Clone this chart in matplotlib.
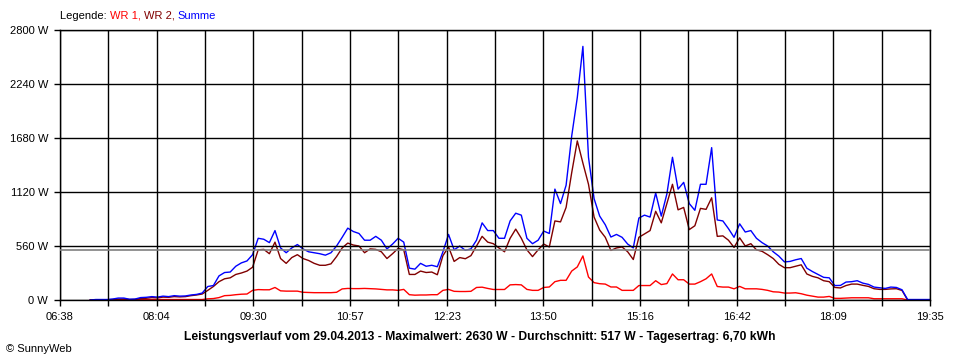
import matplotlib
matplotlib.use("Agg")
import matplotlib.pyplot as plt
import numpy as np
import pandas as pd

plt.rcParams["font.family"] = ["Liberation Sans", "DejaVu Sans"]

OUTPUT_PLOT = "out.png"

# readings every 5 minutes, starting 07:05
SAMPLE_START = "07:05"
SAMPLE_STEP = "5min"

SUMME_W = [
    0, 5, 5, 5, 10, 20, 20, 8, 10, 25, 28, 35, 30, 40, 35, 45, 40, 42, 52, 58,
    72, 140, 150, 250, 285, 290, 350, 385, 405, 470, 640, 630, 595, 720, 540, 490,
    540, 575, 530, 500, 490, 480, 465, 490, 560, 650, 745, 710, 690, 620, 620, 660,
    620, 530, 580, 640, 600, 330, 320, 380, 350, 360, 345, 500, 680, 520, 560, 515,
    530, 620, 800, 720, 720, 640, 640, 820, 900, 880, 640, 584, 620, 715, 690, 1150,
    1000, 1190, 1700, 2100, 2630, 1480, 1050, 870, 780, 653, 680, 650, 580, 540, 850, 880,
    860, 1110, 870, 1100, 1480, 1150, 1220, 1000, 930, 1200, 1200, 1580, 830, 820, 740, 650,
    790, 705, 720, 640, 595, 560, 500, 455, 395, 400, 417, 430, 330, 295, 265, 235,
    230, 150, 151, 186, 190, 200, 175, 162, 134, 127, 120, 134, 130, 106, 5, 5,
    5, 5, 5,
]

WR2_W = [
    0, 0, 0, 3, 5, 8, 10, 5, 6, 15, 18, 25, 22, 30, 28, 35, 32, 35, 45, 52,
    62, 100, 140, 190, 220, 230, 265, 280, 300, 340, 520, 525, 480, 600, 430, 380,
    440, 470, 430, 410, 380, 360, 360, 375, 450, 540, 590, 570, 560, 490, 530, 525,
    500, 430, 480, 535, 520, 265, 265, 300, 285, 290, 262, 460, 550, 400, 440, 428,
    460, 560, 660, 600, 584, 540, 500, 640, 735, 640, 520, 450, 520, 580, 550, 820,
    810, 960, 1320, 1650, 1420, 1200, 860, 725, 650, 514, 540, 550, 500, 420, 650, 685,
    720, 920, 800, 1000, 1200, 935, 960, 730, 770, 950, 940, 1060, 660, 665, 620, 545,
    645, 560, 584, 520, 505, 470, 430, 370, 335, 335, 350, 365, 270, 245, 230, 200,
    190, 130, 125, 150, 165, 165, 152, 141, 117, 110, 110, 115, 117, 99, 0, 0,
    0, 0, 0,
]

WR1_W = [
    0, 0, 0, 0, 3, 5, 5, 3, 3, 5, 5, 5, 5, 5, 5, 5, 5, 5, 5, 5,
    5, 12, 15, 25, 45, 48, 55, 60, 62, 100, 108, 106, 106, 130, 95, 92,
    92, 92, 80, 78, 76, 76, 76, 76, 80, 115, 120, 118, 118, 120, 118, 115,
    110, 105, 105, 100, 110, 55, 50, 52, 52, 55, 55, 100, 110, 90, 88, 88,
    90, 130, 133, 120, 109, 109, 109, 157, 160, 157, 110, 100, 100, 130, 135, 190,
    204, 204, 300, 343, 457, 238, 180, 169, 165, 135, 135, 100, 100, 100, 150, 150,
    150, 200, 160, 170, 270, 210, 210, 165, 165, 190, 220, 270, 140, 134, 134, 116,
    141, 116, 116, 116, 110, 100, 85, 82, 72, 72, 75, 65, 50, 40, 30, 30,
    37, 17, 17, 20, 23, 23, 23, 23, 13, 13, 13, 13, 13, 13, 0, 0,
    0, 0, 0,
]

AVERAGE_W = 517
X_START = "06:38"
X_END = "19:35"
N_X_INTERVALS = 18
X_TICK_LABELS = ["06:38", "08:04", "09:30", "10:57", "12:23",
                 "13:50", "15:16", "16:42", "18:09", "19:35"]
Y_TICKS_W = [0, 560, 1120, 1680, 2240, 2800]

TITLE = ("Leistungsverlauf vom 29.04.2013 - Maximalwert: 2630 W - "
         "Durchschnitt: 517 W - Tagesertrag: 6,70 kWh")

RED = "#ff0000"
DARK_RED = "#800000"
BLUE = "#0000ff"


def to_minutes(hhmm):
    h, m = hhmm.split(":")
    return int(h) * 60 + int(m)


def main():
    stamps = pd.date_range(f"2013-04-29 {SAMPLE_START}", periods=len(SUMME_W),
                           freq=SAMPLE_STEP)
    minutes = stamps.hour * 60 + stamps.minute

    fig = plt.figure(figsize=(9.6, 3.6), dpi=100)
    ax = fig.add_axes([60 / 960, 60 / 360, 870 / 960, 270 / 360])

    ax.plot(minutes, WR1_W, color=RED, lw=1.0, zorder=2)
    ax.plot(minutes, WR2_W, color=DARK_RED, lw=1.0, zorder=2.1)
    ax.plot(minutes, SUMME_W, color=BLUE, lw=1.0, zorder=2.2)

    ax.axhline(AVERAGE_W, color="#808080", lw=1.2, zorder=3)

    x0, x1 = to_minutes(X_START), to_minutes(X_END)
    ax.set_xlim(x0, x1)
    ax.set_ylim(0, Y_TICKS_W[-1])

    x_ticks = np.linspace(x0, x1, N_X_INTERVALS + 1)
    labels = [X_TICK_LABELS[i // 2] if i % 2 == 0 else "" for i in range(len(x_ticks))]
    ax.set_xticks(x_ticks)
    ax.set_xticklabels(labels)
    ax.set_yticks(Y_TICKS_W)
    ax.set_yticklabels([f"{v} W" for v in Y_TICKS_W])

    ax.grid(True, color="black", lw=1.0, zorder=3)
    ax.set_axisbelow(False)
    for spine in ax.spines.values():
        spine.set_color("black")
        spine.set_linewidth(1.0)
    ax.tick_params(direction="out", length=4.5, width=1.0, pad=4,
                   labelsize=8, colors="black")

    fig.text(0.5, 1 - 337 / 360, TITLE, ha="center", va="center",
             fontsize=8.7, fontweight="bold")
    fig.text(6 / 960, 1 - 349 / 360, "\u00a9 SunnyWeb", ha="left", va="center",
             fontsize=8)

    # legend as coloured words in one row
    renderer = fig.canvas.get_renderer()
    x = 60 / 960
    y = 1 - 16 / 360
    for word, color in [("Legende: ", "black"), ("WR 1, ", RED),
                        ("WR 2, ", DARK_RED), ("Summe", BLUE)]:
        t = fig.text(x, y, word, color=color, ha="left", va="center", fontsize=8)
        bb = t.get_window_extent(renderer=renderer)
        x += bb.width / fig.bbox.width

    fig.savefig(OUTPUT_PLOT, dpi=100)
    plt.close(fig)


if __name__ == "__main__":
    main()
